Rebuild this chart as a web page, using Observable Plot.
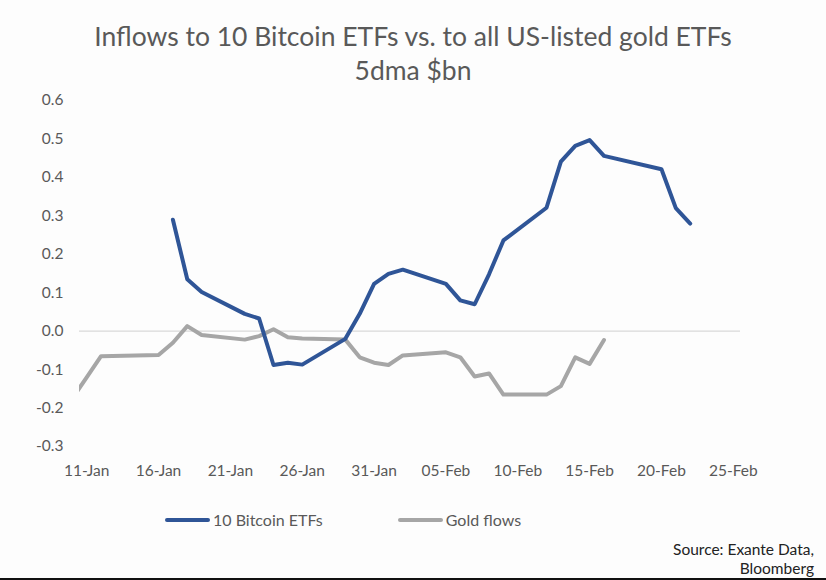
<!DOCTYPE html>
<html>
<head>
<meta charset="utf-8">
<script src="https://cdn.jsdelivr.net/npm/d3@7"></script>
<script src="https://cdn.jsdelivr.net/npm/@observablehq/plot@0.6"></script>
<style>
  html, body { margin: 0; padding: 0; background: #fdfdfd; }
  #wrap { position: relative; width: 826px; height: 580px; font-family: Lato, "Open Sans", sans-serif; color: #595959; overflow: hidden; }
  #title { position: absolute; top: 19px; left: 0; width: 826px; text-align: center; font-size: 26.5px; line-height: 34px; }
  #chart { position: absolute; top: 85px; left: 0; }
  #legend { position: absolute; top: 510px; left: 165px; font-size: 16px; display: flex; align-items: center; }
  .sw { display: inline-block; width: 45px; height: 4px; border-radius: 2px; margin-right: 3px; }
  .item { display: flex; align-items: center; }
  #source { position: absolute; top: 540px; right: 12px; text-align: right; font-size: 15.5px; line-height: 19px; color: #222; }
  #bottomline { position: absolute; left: 0; bottom: 0; width: 826px; height: 2px; background: #111; }
</style>
</head>
<body>
<div id="wrap">
  <div id="title">Inflows to 10 Bitcoin ETFs vs. to all US-listed gold ETFs<br>5dma $bn</div>
  <div id="chart"></div>
  <div id="legend">
    <div class="item" style="margin-right:75px"><span class="sw" style="background:#2F5597"></span>10 Bitcoin ETFs</div>
    <div class="item"><span class="sw" style="background:#A6A6A6"></span>Gold flows</div>
  </div>
  <div id="source">Source: Exante Data,<br>Bloomberg</div>
  <div id="bottomline"></div>
</div>
<script>
// Bitcoin ETF inflows, 5dma $bn
const btcDates = ["2024-01-17","2024-01-18","2024-01-19","2024-01-22","2024-01-23","2024-01-24","2024-01-25","2024-01-26",
  "2024-01-29","2024-01-30","2024-01-31","2024-02-01","2024-02-02","2024-02-05","2024-02-06","2024-02-07","2024-02-08",
  "2024-02-09","2024-02-12","2024-02-13","2024-02-14","2024-02-15","2024-02-16","2024-02-20","2024-02-21","2024-02-22"];
const btcValues = [0.29,0.135,0.102,0.045,0.033,-0.088,-0.082,-0.087,
  -0.02,0.045,0.123,0.149,0.16,0.123,0.08,0.07,0.148,
  0.236,0.321,0.441,0.482,0.497,0.456,0.421,0.32,0.28];

// Gold ETF flows, 5dma $bn
const goldDates = ["2024-01-10","2024-01-11","2024-01-12","2024-01-16","2024-01-17","2024-01-18","2024-01-19","2024-01-22",
  "2024-01-23","2024-01-24","2024-01-25","2024-01-26","2024-01-29","2024-01-30","2024-01-31","2024-02-01","2024-02-02",
  "2024-02-05","2024-02-06","2024-02-07","2024-02-08","2024-02-09","2024-02-12","2024-02-13","2024-02-14","2024-02-15","2024-02-16"];
const goldValues = [-0.175,-0.12,-0.065,-0.062,-0.03,0.013,-0.01,-0.022,
  -0.013,0.005,-0.016,-0.019,-0.022,-0.068,-0.082,-0.088,-0.063,
  -0.055,-0.068,-0.118,-0.11,-0.165,-0.165,-0.143,-0.068,-0.085,-0.023];

const xTickLabels = ["2024-01-11","2024-01-16","2024-01-21","2024-01-26","2024-01-31","2024-02-05","2024-02-10","2024-02-15","2024-02-20","2024-02-25"];
const yTicks = [-0.3,-0.2,-0.1,0,0.1,0.2,0.3,0.4,0.5,0.6];
const xDomain = ["2024-01-10T12:00:00Z","2024-02-25T12:00:00Z"];

const parse = s => new Date(s.length === 10 ? s + "T00:00:00Z" : s);
const btc = btcDates.map((d, i) => ({date: parse(d), value: btcValues[i]}));
const gold = goldDates.map((d, i) => ({date: parse(d), value: goldValues[i]}));

const chart = Plot.plot({
  width: 826,
  height: 400,
  marginLeft: 79,
  marginRight: 86,
  marginTop: 15,
  marginBottom: 39,
  style: {fontFamily: "Lato, 'Open Sans', sans-serif", fontSize: "15px", color: "#595959", background: "transparent"},
  x: {type: "utc", domain: xDomain.map(parse), label: null},
  y: {domain: [-0.3, 0.6], label: null},
  marks: [
    Plot.ruleY([0], {stroke: "#D9D9D9", strokeWidth: 1.2}),
    Plot.line(gold, {x: "date", y: "value", stroke: "#A6A6A6", strokeWidth: 4, clip: true}),
    Plot.line(btc, {x: "date", y: "value", stroke: "#2F5597", strokeWidth: 4, clip: true}),
    Plot.axisX({ticks: xTickLabels.map(parse), tickFormat: d3.utcFormat("%d-%b"), tickSize: 0, tickPadding: 18, fill: "#595959", fontSize: 15.5}),
    Plot.axisY({ticks: yTicks, tickFormat: d => d.toFixed(1), tickSize: 0, tickPadding: 16, fill: "#595959", fontSize: 15.5})
  ]
});
document.getElementById("chart").appendChild(chart);
</script>
</body>
</html>
